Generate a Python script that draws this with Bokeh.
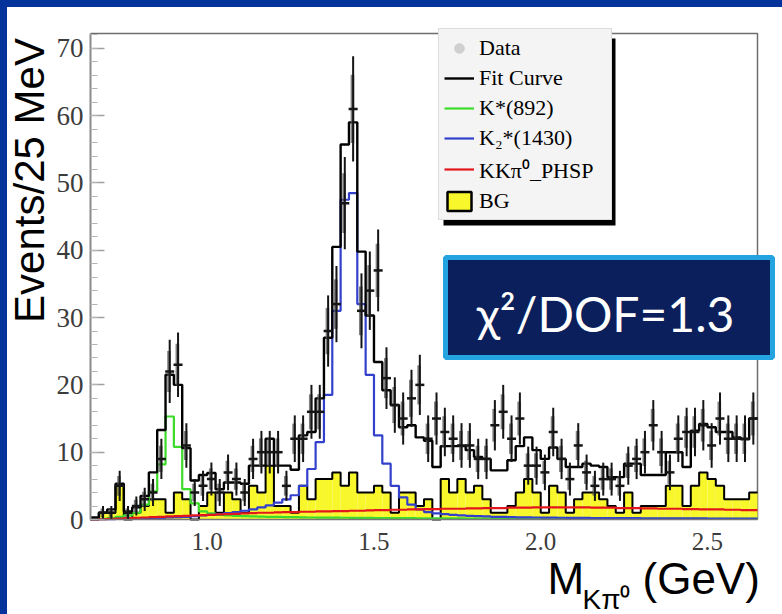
import numpy as np
from math import pi
from bokeh.plotting import figure
from bokeh.layouts import column
from bokeh.models import (Range1d, FixedTicker, PrintfTickFormatter, Label,
                          BoxAnnotation, Legend, LegendItem, ColumnDataSource)
from bokeh.embed import file_html
from bokeh.resources import INLINE

# ---------------- data ----------------
bin_low = 0.65      # GeV, left edge of first bin
bin_width = 0.025   # GeV (25 MeV bins)

data_counts = [0, 1, 1, 5, 1, 2, 3, 4, 9, 22,
               23, 11, 4, 5, 6, 4, 7, 6, 4, 9,
               10, 10, 10, 5, 12, 12, 16, 16, 28, 32,
               47, 61, 31, 34, 37, 21, 17, 15, 18, 20,
               12, 15, 13, 12, 11, 11, 9, 9, 14, 16,
               12, 15, 8, 8, 7, 13, 9, 6, 11, 7,
               5, 6, 6, 5, 8, 9, 10, 14, 10, 7,
               12, 13, 13, 14, 11, 15, 12, 12, 12, 15]

fit_curve = [0.3, 1.0, 1.5, 5.3, 1.2, 1.8, 3.5, 7.0, 13.3, 21.5,
             20.0, 10.6, 5.8, 6.6, 6.9, 4.5, 5.5, 5.5, 5.3, 8.0,
             8.0, 12.0, 8.0, 8.0, 7.4, 12.5, 13.0, 18.0, 27.0, 40.5,
             55.7, 59.0, 39.8, 30.3, 23.4, 19.2, 17.0, 13.7, 14.0, 12.2,
             11.7, 7.8, 10.9, 10.9, 10.9, 10.3, 9.3, 9.0, 7.3, 7.3,
             8.8, 10.9, 12.2, 10.3, 9.0, 10.7, 9.0, 7.8, 7.8, 8.3,
             8.0, 7.8, 6.3, 6.3, 8.3, 8.3, 6.6, 6.6, 6.6, 10.0,
             10.0, 7.8, 13.2, 14.2, 13.7, 13.0, 13.0, 12.2, 11.9, 15.0]

kstar892 = [0.0, 0.1, 0.2, 0.4, 0.6, 1.0, 2.2, 4.2, 8.2, 15.3,
            10.8, 4.5, 2.4, 1.2, 0.9, 0.7, 0.6, 0.55, 0.5, 0.45,
            0.42, 0.4, 0.38, 0.36, 0.34, 0.32, 0.3, 0.29, 0.28, 0.27,
            0.26, 0.25, 0.24, 0.23, 0.22, 0.21, 0.2, 0.2, 0.19, 0.18,
            0.18, 0.17, 0.17, 0.16, 0.16, 0.15, 0.15, 0.15, 0.14, 0.14,
            0.14, 0.13, 0.13, 0.13, 0.12, 0.12, 0.12, 0.12, 0.11, 0.11,
            0.11, 0.11, 0.1, 0.1, 0.1, 0.1, 0.1, 0.1, 0.1, 0.1,
            0.1, 0.1, 0.1, 0.1, 0.1, 0.1, 0.1, 0.1, 0.1, 0.1]

k2star1430 = [0.0, 0.05, 0.05, 0.1, 0.1, 0.15, 0.2, 0.2, 0.25, 0.3,
              0.35, 0.4, 0.5, 0.6, 0.7, 0.8, 0.95, 1.1, 1.3, 1.5,
              1.8, 2.1, 2.5, 3.0, 3.6, 5.0, 7.5, 11.5, 18.5, 31.0,
              47.5, 48.5, 32.0, 21.5, 12.5, 8.3, 5.0, 3.3, 2.2, 1.5,
              1.1, 0.9, 0.8, 0.7, 0.6, 0.55, 0.5, 0.45, 0.4, 0.38,
              0.35, 0.33, 0.31, 0.3, 0.28, 0.27, 0.26, 0.25, 0.24, 0.23,
              0.22, 0.21, 0.2, 0.2, 0.19, 0.19, 0.18, 0.18, 0.17, 0.17,
              0.17, 0.16, 0.16, 0.16, 0.15, 0.15, 0.15, 0.15, 0.15, 0.15]

kkpi0_phsp = [0.0, 0.05, 0.1, 0.15, 0.2, 0.25, 0.3, 0.35, 0.4, 0.45,
              0.5, 0.55, 0.6, 0.65, 0.7, 0.75, 0.8, 0.85, 0.9, 0.95,
              1.0, 1.0, 1.05, 1.1, 1.1, 1.15, 1.15, 1.2, 1.2, 1.25,
              1.25, 1.3, 1.3, 1.35, 1.4, 1.4, 1.45, 1.45, 1.5, 1.5,
              1.55, 1.55, 1.6, 1.6, 1.6, 1.65, 1.65, 1.7, 1.7, 1.7,
              1.75, 1.75, 1.75, 1.8, 1.8, 1.8, 1.8, 1.8, 1.8, 1.8,
              1.75, 1.75, 1.75, 1.7, 1.7, 1.7, 1.65, 1.65, 1.6, 1.6,
              1.6, 1.55, 1.55, 1.5, 1.5, 1.5, 1.45, 1.45, 1.4, 1.4]

background = [0, 1, 1, 5, 0, 1, 2, 3, 3, 1,
              4, 3, 0, 2, 4, 1, 4, 3, 1, 5,
              4, 8, 2, 2, 1, 5, 3, 6, 6, 7,
              5, 7, 4, 4, 5, 4, 1, 4, 4, 2,
              3, 0, 6, 4, 6, 4, 5, 3, 1, 1,
              2, 4, 6, 4, 1, 5, 4, 1, 3, 4,
              4, 3, 2, 1, 4, 1, 2, 2, 2, 5,
              5, 2, 5, 7, 6, 5, 3, 3, 3, 4]

x_ticks = [1.0, 1.5, 2.0, 2.5]
y_ticks = [0, 10, 20, 30, 40, 50, 60, 70]

legend_labels = ["Data", "Fit Curve", "K*(892)", "K\u2082*(1430)",
                 "KK\u03c0\u2070_PHSP", "BG"]
x_label_main = "M"
x_label_sub = "K\u03c0\u2070"
x_label_unit = "(GeV)"
y_label = "Events/25 MeV"
chi2_text = "\u03c7\u00b2/DOF=1.3"

# ---------------- layout geometry (pixels of the whole picture) ----------------
W, H = 782, 614
BAND = 7                                       # blue slide band (top, left)
PAD_L, PAD_R, PAD_T, PAD_B = 90, 25, 33, 95    # ROOT pad margins in the picture
x_min, x_max = 0.65, 2.65
y_min, y_max = 0.0, 72.2
ppx = (W - PAD_L - PAD_R) / (x_max - x_min)
ppy = (H - PAD_T - PAD_B) / (y_max - y_min)
X_LO, X_HI = x_min - (PAD_L - BAND) / ppx, x_max + PAD_R / ppx
Y_LO, Y_HI = y_min - PAD_B / ppy, y_max + (PAD_T - BAND) / ppy

def sx(px):     # picture column -> frame screen x
    return px - BAND

def sy(py):     # picture row (from top) -> frame screen y (from bottom)
    return H - py

# ---------------- derived bin geometry ----------------
n = len(data_counts)
edges = bin_low + bin_width * np.arange(n + 1)
centers = edges[:-1] + bin_width / 2.0

def step_y(vals):
    return list(vals) + [vals[-1]]

SLIDE_BLUE = "#04339b"
# figure canvas = picture minus the blue slide strips; axes pinned at x=0.65 / y=0
p = figure(width=W - BAND, height=H - BAND,
           x_range=Range1d(X_LO, X_HI), y_range=Range1d(Y_LO, Y_HI),
           output_backend="svg", toolbar_location=None,
           min_border=0, min_border_left=0, min_border_right=0,
           min_border_top=0, min_border_bottom=0,
           background_fill_color="white", border_fill_color="white")
p.grid.visible = False
p.outline_line_color = None

# axes styling (ROOT-like)
xa = p.xaxis[0]
xa.fixed_location = y_min
xa.bounds = (x_min, x_max)
xa.ticker = FixedTicker(ticks=x_ticks, minor_ticks=[])
xa.formatter = PrintfTickFormatter(format="%.1f")
xa.major_tick_in = 0
xa.major_tick_out = 0
xa.minor_tick_in = 0
xa.minor_tick_out = 0
xa.axis_line_color = "#777777"
xa.axis_line_width = 1.5
xa.major_label_text_font = "Liberation Serif"
xa.major_label_text_font_size = "25px"
xa.major_label_text_color = "#3c3c3c"
xa.major_label_standoff = 13

ya = p.yaxis[0]
ya.fixed_location = x_min
ya.bounds = (y_min, y_max)
ya.ticker = FixedTicker(ticks=y_ticks, minor_ticks=list(range(0, 73, 2)))
ya.major_tick_in = 14
ya.major_tick_out = 0
ya.minor_tick_in = 7
ya.minor_tick_out = 0
ya.major_tick_line_color = "#a0a0a0"
ya.minor_tick_line_color = "#b5b5b5"
ya.major_tick_line_width = 1.5
ya.axis_line_color = "#8a8a8a"
ya.axis_line_width = 2
ya.major_label_text_font = "Liberation Serif"
ya.major_label_text_font_size = "27px"
ya.major_label_text_color = "#3c3c3c"
ya.major_label_standoff = 7

# ROOT frame: top and right edges of the pad
p.line(x=[x_min, x_max, x_max], y=[y_max, y_max, y_min],
       line_color="#6e6e6e", line_width=1.5)

# ---------------- histograms ----------------
YELLOW = "#f7f72c"
p.quad(left=edges[:-1], right=edges[1:], bottom=0, top=background,
       fill_color=YELLOW, line_color=None)
p.step(x=edges, y=step_y(background), mode="after", line_color="black", line_width=2)
# legend proxy for BG (filled box with black border, nothing drawn in the plot)
bg_proxy = p.quad(source=ColumnDataSource(dict(l=[np.nan], r=[np.nan], b=[np.nan], t=[np.nan])),
                  left="l", right="r", bottom="b", top="t",
                  fill_color=YELLOW, line_color="black", line_width=2.5)

r_green = p.step(x=edges, y=step_y(kstar892), mode="after",
                 line_color="#3ddc2a", line_width=2.2)
r_blue = p.step(x=edges, y=step_y(k2star1430), mode="after",
                line_color="#3340cc", line_width=2.2)
r_red = p.step(x=edges, y=step_y(kkpi0_phsp), mode="after",
               line_color="#e3161c", line_width=2.2)
r_fit = p.step(x=edges, y=step_y(fit_curve), mode="after",
               line_color="black", line_width=2.4)

# ---------------- data points ----------------
counts = np.array(data_counts, dtype=float)
mask = counts > 0
xc = centers[mask]
yc = counts[mask]
err = np.sqrt(yc)
p.vbar(x=xc - 0.002, width=0.011, bottom=yc - 0.65 * err, top=yc + 0.65 * err,
       fill_color="#555555", fill_alpha=0.75, line_color=None)
p.segment(x0=xc, x1=xc, y0=yc - err, y1=yc + err, line_color="#151515", line_width=2)
p.scatter(x=xc, y=yc, marker="dash", size=9, line_color="#151515", line_width=2.5)
data_legend_proxy = p.scatter(source=ColumnDataSource(dict(x=[np.nan], y=[np.nan])),
                              x="x", y="y", marker="circle", size=2,
                              fill_color="#cfcfcf", line_color="#cfcfcf")

# ---------------- legend (with ROOT style shadow) ----------------
def scr_box(left, right, top, bottom, **kw):
    # pixel box given from the top-left corner of the picture
    return BoxAnnotation(left=sx(left), right=sx(right), bottom=sy(bottom), top=sy(top),
                         left_units="screen", right_units="screen",
                         bottom_units="screen", top_units="screen",
                         fill_alpha=1.0, **kw)

p.add_layout(scr_box(443, 615, 38, 225, fill_color="black", line_alpha=0.0))
legend = Legend(items=[
    LegendItem(label=legend_labels[0], renderers=[data_legend_proxy]),
    LegendItem(label=legend_labels[1], renderers=[r_fit]),
    LegendItem(label=legend_labels[2], renderers=[r_green]),
    LegendItem(label=legend_labels[3], renderers=[r_blue]),
    LegendItem(label=legend_labels[4], renderers=[r_red]),
    LegendItem(label=legend_labels[5], renderers=[bg_proxy]),
], location=(sx(438), sy(220)))
legend.margin = 0
legend.padding = 5
legend.spacing = 3
legend.glyph_width = 30
legend.glyph_height = 24
legend.label_height = 27
legend.label_width = 127
legend.label_standoff = 5
legend.label_text_font = "Liberation Serif"
legend.label_text_font_size = "22px"
legend.label_text_color = "black"
legend.background_fill_color = "#f4f4f4"
legend.background_fill_alpha = 1.0
legend.border_line_color = "#c4c4c4"
legend.border_line_width = 1
p.add_layout(legend)

# ---------------- chi2 box ----------------
p.add_layout(scr_box(445, 772, 257, 357, fill_color="#0b1f5c",
                     line_color="#23a3e0", line_width=5, line_alpha=1.0))
p.add_layout(Label(x=sx(605), y=sy(313), x_units="screen", y_units="screen",
                   text=chi2_text, text_font="Lato", text_font_size="48px",
                   text_color="white", text_align="center",
                   text_baseline="alphabetic"))

# ---------------- axis titles ----------------
p.add_layout(Label(x=sx(29), y=sy(180), x_units="screen", y_units="screen",
                   text=y_label, angle=pi / 2, text_font="Liberation Sans",
                   text_font_size="42px", text_color="black",
                   text_align="center", text_baseline="alphabetic"))
p.add_layout(Label(x=sx(547), y=sy(578), x_units="screen", y_units="screen",
                   text=x_label_main, text_font="Liberation Sans",
                   text_font_size="44px", text_color="black",
                   text_align="left", text_baseline="alphabetic"))
p.add_layout(Label(x=sx(582), y=sy(599), x_units="screen", y_units="screen",
                   text=x_label_sub, text_font="Liberation Sans",
                   text_font_size="28px", text_color="black",
                   text_align="left", text_baseline="alphabetic"))
p.add_layout(Label(x=sx(642), y=sy(578), x_units="screen", y_units="screen",
                   text=x_label_unit, text_font="Liberation Sans",
                   text_font_size="44px", text_color="black",
                   text_align="left", text_baseline="alphabetic"))

# slide: blue strips on the top and left of the white panel
page = column(p, styles={"border-top": f"{BAND}px solid {SLIDE_BLUE}",
                         "border-left": f"{BAND}px solid {SLIDE_BLUE}"})

open("out.html", "w").write(file_html(page, INLINE))
